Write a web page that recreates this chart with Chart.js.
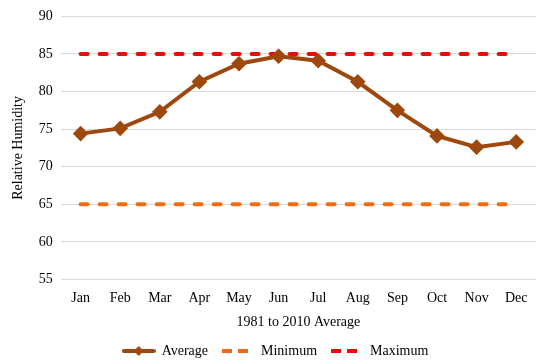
<!DOCTYPE html>
<html>
<head>
<meta charset="utf-8">
<script src="https://cdn.jsdelivr.net/npm/chart.js@4.4.0/dist/chart.umd.min.js"></script>
<style>
  html, body { margin: 0; padding: 0; background: #fff; overflow: hidden; }
  canvas { display: block; }
</style>
</head>
<body>
<canvas id="humidityChart" width="545" height="360"></canvas>
<script>
// Chart data
const months = ['Jan', 'Feb', 'Mar', 'Apr', 'May', 'Jun', 'Jul', 'Aug', 'Sep', 'Oct', 'Nov', 'Dec'];
const average = [74.4, 75.1, 77.3, 81.3, 83.7, 84.7, 84.1, 81.3, 77.5, 74.1, 72.6, 73.3];
const minimum = [65, 65, 65, 65, 65, 65, 65, 65, 65, 65, 65, 65];
const maximum = [85, 85, 85, 85, 85, 85, 85, 85, 85, 85, 85, 85];

const brown = '#9e480e';
const orange = '#f26d12';
const red = '#ee0a0a';
const serif = "'Liberation Serif', 'Times New Roman', serif";

// legend icon for Average: thick line with a diamond in the middle
const avgIcon = document.createElement('canvas');
avgIcon.width = 34;
avgIcon.height = 12;
const ic = avgIcon.getContext('2d');
ic.strokeStyle = brown;
ic.lineWidth = 4;
ic.lineCap = 'round';
ic.beginPath();
ic.moveTo(2, 6);
ic.lineTo(32, 6);
ic.stroke();
ic.fillStyle = brown;
ic.beginPath();
ic.moveTo(17, 1);
ic.lineTo(22, 6);
ic.lineTo(17, 11);
ic.lineTo(12, 6);
ic.closePath();
ic.fill();

const ctx = document.getElementById('humidityChart').getContext('2d');
new Chart(ctx, {
    type: 'line',
    data: {
        labels: months,
        datasets: [
            {
                label: 'Average',
                data: average,
                borderColor: brown,
                backgroundColor: brown,
                borderWidth: 4,
                pointStyle: 'rectRot',
                pointRadius: 5,
                pointBackgroundColor: brown,
                pointBorderColor: brown,
                tension: 0,
                order: 0
            },
            {
                label: 'Minimum',
                data: minimum,
                borderColor: orange,
                backgroundColor: orange,
                borderWidth: 4,
                borderDash: [7, 12],
                borderCapStyle: 'round',
                pointRadius: 0,
                order: 1
            },
            {
                label: 'Maximum',
                data: maximum,
                borderColor: red,
                backgroundColor: red,
                borderWidth: 4,
                borderDash: [7, 12],
                borderCapStyle: 'round',
                pointRadius: 0,
                order: 2
            }
        ]
    },
    options: {
        responsive: false,
        animation: false,
        layout: { padding: { top: 14, right: 0, left: 6, bottom: -8 } },
        plugins: {
            tooltip: { enabled: false },
            legend: {
                position: 'bottom',
                labels: {
                    font: { family: serif, size: 14 },
                    color: '#000',
                    usePointStyle: true,
                    pointStyleWidth: 32,
                    boxHeight: 10,
                    padding: 14,
                    generateLabels: (chart) => chart.data.datasets.map((ds, i) => ({
                        text: ds.label,
                        datasetIndex: i,
                        fillStyle: ds.borderColor,
                        strokeStyle: ds.borderColor,
                        lineWidth: 4,
                        lineCap: 'butt',
                        lineDash: i === 0 ? [] : [10, 6],
                        pointStyle: i === 0 ? avgIcon : 'line',
                        fontColor: '#000'
                    }))
                }
            }
        },
        scales: {
            x: {
                offset: true,
                grid: { display: false },
                border: { display: false },
                afterFit: (scale) => { scale.paddingRight = 0; },
                ticks: { color: '#000', font: { family: serif, size: 14 }, padding: 3 },
                title: { display: true, text: '1981 to 2010 Average', color: '#000', font: { family: serif, size: 14 }, padding: { top: 4, bottom: -1 } }
            },
            y: {
                min: 55,
                max: 90,
                ticks: { stepSize: 5, color: '#000', font: { family: serif, size: 14 }, padding: 8 },
                grid: { color: '#d9d9d9', lineWidth: 1, drawTicks: false },
                border: { display: false },
                title: { display: true, text: 'Relative Humidity', color: '#000', font: { family: serif, size: 14 }, padding: { bottom: 4 } }
            }
        }
    }
});
</script>
</body>
</html>
